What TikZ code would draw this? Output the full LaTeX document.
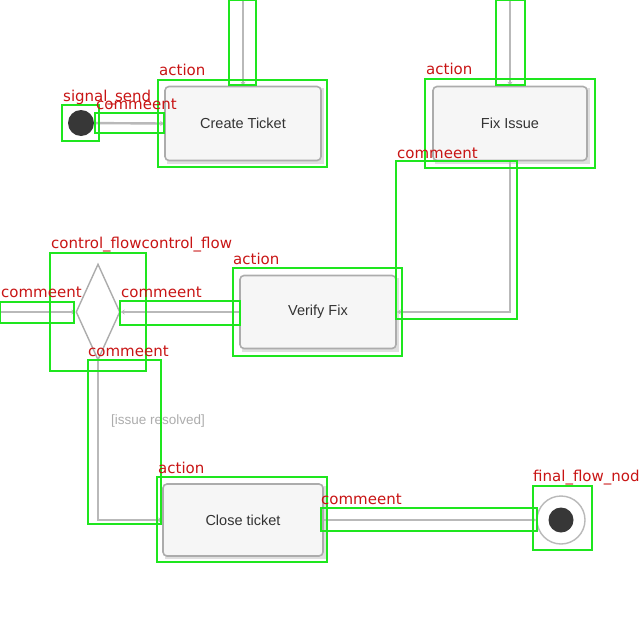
\documentclass[tikz,border=0pt]{standalone}
\usepackage{fontspec}
\setmainfont{Liberation Sans}
\newfontfamily\labfont{DejaVu Sans}
\usetikzlibrary{shapes.geometric,arrows.meta}
\definecolor{boxgreen}{RGB}{30,230,30}
\definecolor{labred}{RGB}{200,20,20}
\definecolor{dark}{RGB}{55,55,55}
\tikzset{
  actbox/.style={draw=gray!65,line width=1.6pt,rounded corners=4pt,fill=gray!7,
    minimum width=156pt,minimum height=74pt,inner sep=0pt,
    font=\fontsize{14.5}{16}\selectfont,text=gray!40!black},
  flow/.style={draw=gray!55,line width=2.4pt,-{Stealth[length=4pt,width=5pt]}},
  anno/.style={draw=boxgreen,line width=2.2pt},
  lab/.style={anchor=base west,inner sep=0pt,text=labred,font=\labfont\fontsize{15}{17}\selectfont},
}
\begin{document}
\begin{tikzpicture}[x=1pt,y=-1pt]
\useasboundingbox (0,0) rectangle (640,640);
\clip (0,0) rectangle (640,640);
% diagram
\fill[gray!25] (167,88) rectangle (324,164);
\fill[gray!25] (435,88) rectangle (590,164);
\fill[gray!25] (242,278) rectangle (399,352);
\fill[gray!25] (165,486) rectangle (326,559);
\node[actbox] (create) at (243,123.5) {Create Ticket};
\node[actbox,minimum width=154pt] (fix) at (510,123.5) {Fix Issue};
\node[actbox,minimum height=73pt] (verify) at (318,312) {Verify Fix};
\node[actbox,minimum width=160pt,minimum height=72pt] (close) at (243,520) {Close ticket};
\node[diamond,draw=gray!65,line width=1.4pt,fill=white,inner sep=0pt,minimum width=44pt,minimum height=96pt] (dec) at (98,312) {};
\node[circle,fill=dark,minimum size=26pt,inner sep=0pt] (init) at (81,123) {};
\node[circle,draw=gray!55,line width=1.4pt,fill=white,minimum size=48pt,inner sep=0pt] (final) at (561,520) {};
\node[circle,fill=dark,minimum size=25pt,inner sep=0pt] (finalin) at (final) {};
\coordinate (top1) at (243,0);
\coordinate (top2) at (510,0);
\coordinate (leftin) at (0,312);
\draw[flow] (top1) -- (create.north);
\draw[flow] (init) -- (create.west);
\draw[flow] (top2) -- (fix.north);
\draw[flow] (fix.south) |- (verify.east);
\draw[flow] (verify.west) -- (dec.east);
\draw[flow] (leftin) -- (dec.west);
\draw[flow] (dec.south) |- (close.west);
\draw[flow] (close.east) -- (final.west);
\node[font=\fontsize{13.5}{15}\selectfont,text=gray!65,inner sep=0pt] (guard) at (158,421) {[issue resolved]};
% annotations
\draw[anno] (62,105) rectangle (99,141);
\draw[anno] (95,113) rectangle (164,133);
\draw[anno] (158,80) rectangle (327,167);
\draw[anno] (229,0) rectangle (256,85);
\draw[anno] (425,79) rectangle (595,168);
\draw[anno] (496,0) rectangle (525,85);
\draw[anno] (396,161) rectangle (517,319);
\draw[anno] (233,268) rectangle (402,356);
\draw[anno] (120,301) rectangle (240,325);
\draw[anno] (50,253) rectangle (146,371);
\draw[anno] (0,302) rectangle (74,323);
\draw[anno] (88,360) rectangle (161,524);
\draw[anno] (157,477) rectangle (327,562);
\draw[anno] (321,508) rectangle (537,531);
\draw[anno] (533,486) rectangle (592,550);
\node[lab] (l1) at (63,101) {signal\_send};
\node[lab] (l2) at (96,109) {commeent};
\node[lab] (l3) at (159,75) {action};
\node[lab] (l4) at (426,74) {action};
\node[lab] (l5) at (397,158) {commeent};
\node[lab] (l6) at (51,248) {control\_flowcontrol\_flow};
\node[lab] (l7) at (233,264) {action};
\node[lab] (l8) at (1,297) {commeent};
\node[lab] (l9) at (121,297) {commeent};
\node[lab] (l10) at (88,356) {commeent};
\node[lab] (l11) at (158,473) {action};
\node[lab] (l12) at (321,504) {commeent};
\node[lab] (l13) at (533,481) {final\_flow\_node};
\end{tikzpicture}
\end{document}
